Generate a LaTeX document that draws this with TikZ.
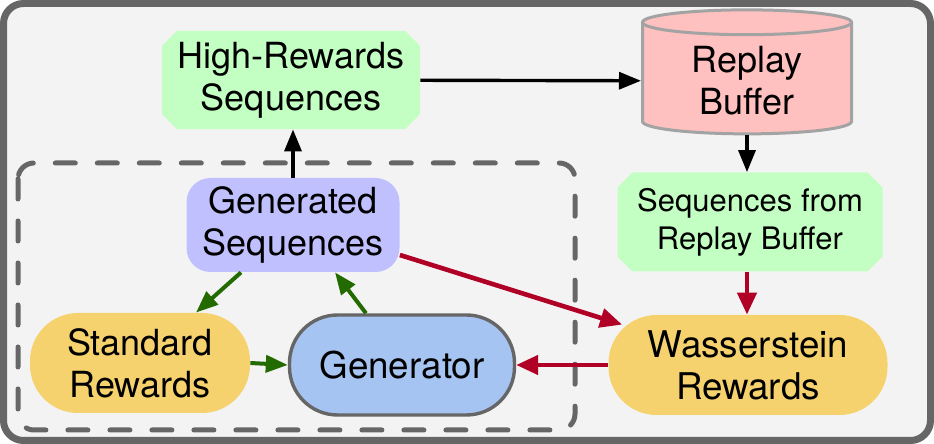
\documentclass[tikz,border=0pt]{standalone}
\usepackage{fontspec}
\setmainfont{TeX Gyre Heros}
\usetikzlibrary{arrows.meta,shapes.geometric,shapes.misc}
\definecolor{framegray}{HTML}{666666}
\definecolor{panel}{HTML}{F3F3F3}
\definecolor{mint}{HTML}{C3FFC3}
\definecolor{pink}{HTML}{FFC0C0}
\definecolor{pinkedge}{HTML}{A3A3A3}
\definecolor{lavender}{HTML}{C0C0FF}
\definecolor{mustard}{HTML}{F6D26F}
\definecolor{skyblue}{HTML}{A6C4F2}
\definecolor{darkgreen}{HTML}{236B00}
\definecolor{crimson}{HTML}{B00026}

\begin{document}
\begin{tikzpicture}[x=0.5pt,y=-0.5pt,
  seqbox/.style={chamfered rectangle,chamfered rectangle xsep=4pt,fill=mint,align=center,inner sep=2pt},
  buffer/.style={cylinder,shape border rotate=90,aspect=0.2,draw=pinkedge,line width=1.5pt,fill=pink,align=center},
  genseq/.style={rounded corners=12pt,fill=lavender,align=center,minimum width=106.5pt,minimum height=47pt},
  reward/.style={rounded corners=24pt,fill=mustard,align=center,minimum height=50pt},
  gen/.style={rounded corners=24pt,draw=framegray,line width=1.7pt,fill=skyblue,align=center,minimum width=112.5pt,minimum height=50pt},
  arr/.style={-{Triangle[length=11pt,width=8.5pt]},line width=1.7pt,color=black},
  garr/.style={-{Triangle[length=11pt,width=8.5pt]},line width=2pt,color=darkgreen},
  rarr/.style={-{Triangle[length=11pt,width=9.5pt]},line width=2.3pt,color=crimson},
  txt/.style={font=\fontsize{18}{21}\selectfont}
]
  \useasboundingbox (0,0) rectangle (934,444);
  \draw[line width=3.5pt,draw=framegray,fill=panel,rounded corners=10pt] (3.5,3.5) rectangle (930.5,440.5);
  \draw[line width=2.5pt,draw=framegray,line cap=round,dash pattern=on 10pt off 11pt,rounded corners=8pt] (18,163) rectangle (575,430);

  \node[seqbox,txt,minimum width=129pt,minimum height=46.5pt] (hirew) at (291,80) {High-Rewards\\Sequences};
  \node[buffer,txt,minimum width=104.5pt,minimum height=62pt] (rbuf) at (747,81) {Replay\\Buffer};
  \node[seqbox,minimum width=132.5pt,minimum height=49.5pt,font=\fontsize{15.5}{19}\selectfont] (seqrb) at (750,222) {Sequences from\\Replay Buffer};
  \node[genseq,txt] (gseq) at (293,225) {Generated\\Sequences};
  \node[reward,txt,minimum width=110pt] (srew) at (140,363) {Standard\\Rewards};
  \node[gen,font=\fontsize{18.4}{21}\selectfont] (gen) at (402,365) {Generator};
  \node[reward,font=\fontsize{18.4}{21}\selectfont,minimum width=139.5pt] (wrew) at (748,365) {Wasserstein\\Rewards};

  \draw[arr] (hirew) -- (rbuf);
  \draw[arr] (rbuf.south) -- (rbuf.south |- seqrb.north);
  \draw[arr] (gseq.north) -- (gseq.north |- hirew.south);
  \draw[garr] ([xshift=-26pt]gseq.south) -- ([xshift=28pt]srew.north);
  \draw[garr] ([xshift=-18pt]gen.north) -- ([xshift=21pt]gseq.south);
  \draw[garr] (srew.east) -- (gen.west);
  \draw[rarr] ([yshift=-15pt]gseq.east) -- ([xshift=7pt,yshift=-5pt]wrew.north west);
  \draw[rarr] (wrew.west) -- (gen.east);
  \draw[rarr] (rbuf.south |- seqrb.south) -- (rbuf.south |- wrew.north);
\end{tikzpicture}
\end{document}
